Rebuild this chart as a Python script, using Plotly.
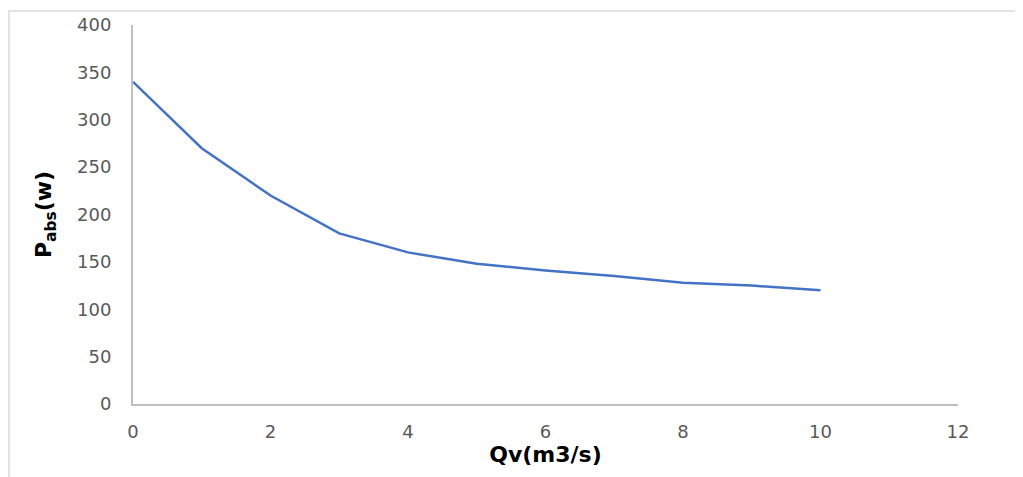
import plotly.graph_objects as go

qv = [0, 1, 2, 3, 4, 5, 6, 7, 8, 9, 10]
p_abs = [340, 270, 220, 180, 160, 148, 141, 135, 128, 125, 120]

x_ticks = [0, 2, 4, 6, 8, 10, 12]
y_ticks = [0, 50, 100, 150, 200, 250, 300, 350, 400]

fig = go.Figure()
fig.add_trace(go.Scatter(
    x=qv, y=p_abs, mode="lines",
    line=dict(color="#4472C4", width=2.5),
    showlegend=False,
))

tick_font = dict(family="DejaVu Sans", size=18, color="#595959")
title_font = dict(family="DejaVu Sans", size=22, color="#000000")

# page body has an 8px default margin; compensate so the plot area lands at x 133-958, y 25-404
fig.update_layout(
    width=1015, height=469,
    margin=dict(l=125, r=65, t=17, b=73, autoexpand=False),
    paper_bgcolor="white", plot_bgcolor="white",
    xaxis=dict(
        range=[0, 12], tickvals=x_ticks, ticktext=[str(v) for v in x_ticks],
        showgrid=False, zeroline=False, showline=True, linecolor="#BFBFBF", linewidth=2,
        ticks="", ticklabelstandoff=10, tickfont=tick_font,
        title=dict(text="<b>Qv(m3/s)</b>", font=title_font, standoff=5),
    ),
    yaxis=dict(
        range=[0, 400], tickvals=y_ticks, ticktext=[str(v) for v in y_ticks],
        showgrid=False, zeroline=False, showline=True, linecolor="#BFBFBF", linewidth=2,
        ticks="", ticklabelstandoff=16, tickfont=tick_font,
        title=dict(text="<b>P<sub>abs</sub>(w)</b>", font=title_font, standoff=19),
    ),
    shapes=[dict(
        type="rect", xref="paper", yref="paper",
        x0=(1 - 125) / 825, x1=1.2, y0=-0.5, y1=(396 - 3) / 379,
        line=dict(color="#D9D9D9", width=1.5), fillcolor="rgba(0,0,0,0)", layer="below",
    )],
)

fig.write_html("out.html")
